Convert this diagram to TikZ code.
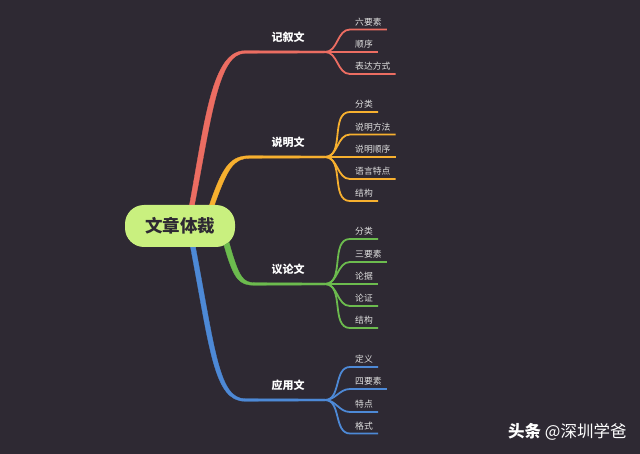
\documentclass[tikz,border=0pt]{standalone}
\usepackage{fontspec}
\setmainfont{Noto Sans CJK SC}
\definecolor{bgdark}{HTML}{2E2933}
\definecolor{rootgreen}{HTML}{C9F07F}
\definecolor{redline}{HTML}{EC6D62}
\definecolor{orangeline}{HTML}{F7B02F}
\definecolor{greenline}{HTML}{6CBB4E}
\definecolor{blueline}{HTML}{4D89D6}
\tikzset{
  topic/.style = {text=white, font=\fontsize{11}{13}\selectfont\bfseries, inner sep=0pt},
  leaf/.style = {anchor=south west, text=white!88!black, font=\fontsize{8.8}{10}\selectfont,
    inner xsep=5pt, inner ysep=3pt, text height=8pt, text depth=1pt},
  fork/.style = {line width=1.8pt, line join=round},
  trunk/.style = {line width=0.3pt, line join=round},
}
\begin{document}
\begin{tikzpicture}[x=1pt, y=-1pt]
  \useasboundingbox (0,0) rectangle (640,454);
  \fill[bgdark] (0,0) rectangle (640,454);
  \node[fill=rootgreen, rounded corners=19pt, minimum width=110pt, minimum height=42pt, inner sep=0pt,
    text=bgdark, font=\fontsize{17.5}{20}\selectfont\bfseries] (root) at (180,226) {文章体裁};

  \coordinate (forkA) at (325,52);
  \coordinate (forkB) at (325,157);
  \coordinate (forkC) at (325,284);
  \coordinate (forkD) at (325,400);

  \node[topic] (narr) at (288,37) {记叙文};
  \node[topic] (expo) at (288,142) {说明文};
  \node[topic] (argu) at (288,269) {议论文};
  \node[topic] (prac) at (288,385) {应用文};

  \draw[trunk, redline, fill=redline] ([xshift=9.5pt]root.north) .. controls (205,120) and (212,50.7) .. (245,50.7)
    -- ([yshift=1pt]forkA) -- ([yshift=-1pt]forkA) -- (245,53.3) .. controls (218,53.3) and (211,120) .. ([xshift=14.5pt]root.north) -- cycle;
  \draw[trunk, orangeline, fill=orangeline] ([xshift=29.5pt]root.north) .. controls (223,165) and (231,155.7) .. (250,155.7)
    -- ([yshift=1pt]forkB) -- ([yshift=-1pt]forkB) -- (250,158.3) .. controls (234,158.3) and (228,167) .. ([xshift=34.5pt]root.north) -- cycle;
  \draw[trunk, greenline, fill=greenline] ([xshift=44pt, yshift=1.8pt]root.south) .. controls (234,280) and (239,285.3) .. (255,285.3)
    -- ([yshift=-1pt]forkC) -- ([yshift=1pt]forkC) -- (255,282.7) .. controls (243,282.7) and (239,278) .. ([xshift=49pt, yshift=5pt]root.south) -- cycle;
  \draw[trunk, blueline, fill=blueline] ([xshift=10.5pt]root.south) .. controls (210,350) and (214,401.3) .. (245,401.3)
    -- ([yshift=-1pt]forkD) -- ([yshift=1pt]forkD) -- (245,398.7) .. controls (219,398.7) and (215,350) .. ([xshift=15.5pt]root.south) -- cycle;

  \node[leaf] (a1) at (350,29.5) {六要素};
  \node[leaf] (a2) at (350,52) {顺序};
  \node[leaf] (a3) at (350,74) {表达方式};
  \draw[fork, redline] (forkA) to[out=0, in=180] (a1.south west) -- (a1.south east);
  \draw[fork, redline] (forkA) -- (a2.south west) -- (a2.south east);
  \draw[fork, redline] (forkA) to[out=0, in=180] (a3.south west) -- (a3.south east);

  \node[leaf] (b1) at (350,112) {分类};
  \node[leaf] (b2) at (350,134.5) {说明方法};
  \node[leaf] (b3) at (350,157) {说明顺序};
  \node[leaf] (b4) at (350,179) {语言特点};
  \node[leaf] (b5) at (350,201) {结构};
  \draw[fork, orangeline] (forkB) to[out=0, in=180] (b1.south west) -- (b1.south east);
  \draw[fork, orangeline] (forkB) to[out=0, in=180] (b2.south west) -- (b2.south east);
  \draw[fork, orangeline] (forkB) -- (b3.south west) -- (b3.south east);
  \draw[fork, orangeline] (forkB) to[out=0, in=180] (b4.south west) -- (b4.south east);
  \draw[fork, orangeline] (forkB) to[out=0, in=180] (b5.south west) -- (b5.south east);

  \node[leaf] (c1) at (350,239) {分类};
  \node[leaf] (c2) at (350,262) {三要素};
  \node[leaf] (c3) at (350,284) {论据};
  \node[leaf] (c4) at (350,306) {论证};
  \node[leaf] (c5) at (350,328) {结构};
  \draw[fork, greenline] (forkC) to[out=0, in=180] (c1.south west) -- (c1.south east);
  \draw[fork, greenline] (forkC) to[out=0, in=180] (c2.south west) -- (c2.south east);
  \draw[fork, greenline] (forkC) -- (c3.south west) -- (c3.south east);
  \draw[fork, greenline] (forkC) to[out=0, in=180] (c4.south west) -- (c4.south east);
  \draw[fork, greenline] (forkC) to[out=0, in=180] (c5.south west) -- (c5.south east);

  \node[leaf] (d1) at (350,367) {定义};
  \node[leaf] (d2) at (350,389) {四要素};
  \node[leaf] (d3) at (350,412) {特点};
  \node[leaf] (d4) at (350,433.5) {格式};
  \draw[fork, blueline] (forkD) to[out=0, in=180] (d1.south west) -- (d1.south east);
  \draw[fork, blueline] (forkD) to[out=0, in=180] (d2.south west) -- (d2.south east);
  \draw[fork, blueline] (forkD) to[out=0, in=180] (d3.south west) -- (d3.south east);
  \draw[fork, blueline] (forkD) to[out=0, in=180] (d4.south west) -- (d4.south east);

  \node[text=white, inner sep=0pt, anchor=west, font=\fontsize{16.5}{18}\selectfont] (mark) at (508,432)
    {\textbf{头条} @深圳学爸};
\end{tikzpicture}
\end{document}
